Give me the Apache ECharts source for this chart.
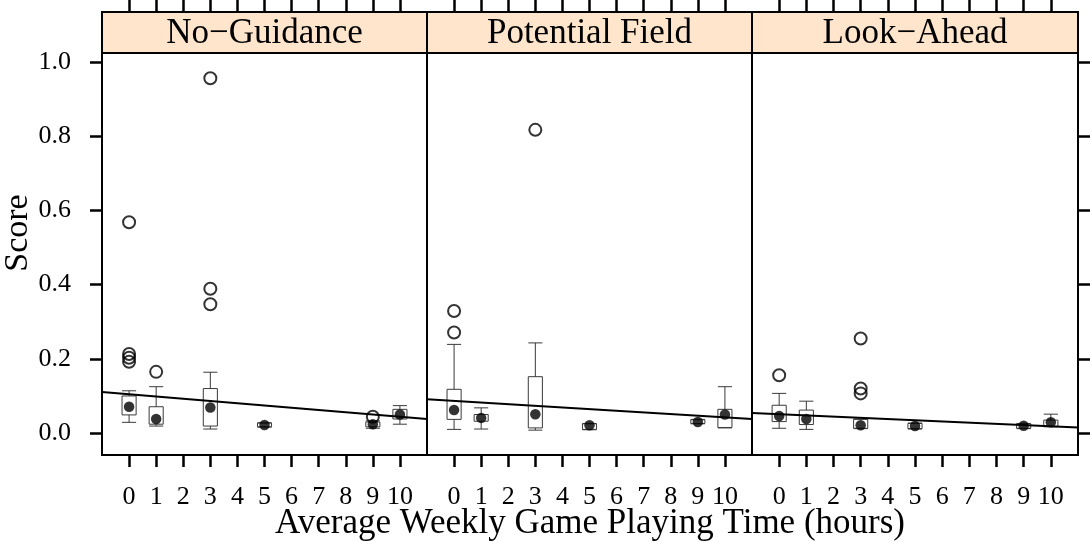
<!DOCTYPE html>
<html>
<head>
<meta charset="utf-8">
<title>Score by Average Weekly Game Playing Time</title>
<script src="https://cdn.jsdelivr.net/npm/echarts@6.0.0/dist/echarts.min.js"></script>
<style>
  html, body { margin: 0; padding: 0; background: #ffffff; }
  #chart { width: 1090px; height: 542px; }
</style>
</head>
<body>
<div id="chart"></div>
<script>
// Panels (one per guidance condition)
const conditions = ['No\u2212Guidance', 'Potential Field', 'Look\u2212Ahead'];

// Groups of average weekly playing time (hours) present in the data
const hours = [0, 1, 3, 5, 9, 10];
const hourTicks = [0, 1, 2, 3, 4, 5, 6, 7, 8, 9, 10];
const scoreTicks = [0, 0.2, 0.4, 0.6, 0.8, 1.0];

// Box statistics per hour group: [lower whisker, Q1, median, Q3, upper whisker]
const noGuidanceBox = [
  [0.029, 0.049, 0.071, 0.100, 0.114],
  [0.019, 0.024, 0.038, 0.071, 0.125],
  [0.011, 0.019, 0.069, 0.120, 0.164],
  [0.016, 0.017, 0.022, 0.027, 0.028],
  [0.013, 0.017, 0.024, 0.030, 0.033],
  [0.024, 0.038, 0.050, 0.064, 0.074]
];
const potentialFieldBox = [
  [0.010, 0.037, 0.062, 0.118, 0.239],
  [0.011, 0.032, 0.041, 0.050, 0.068],
  [0.008, 0.014, 0.051, 0.152, 0.243],
  [0.009, 0.010, 0.021, 0.025, 0.026],
  [0.025, 0.026, 0.030, 0.036, 0.037],
  [0.014, 0.015, 0.050, 0.064, 0.125]
];
const lookAheadBox = [
  [0.013, 0.031, 0.046, 0.075, 0.107],
  [0.010, 0.023, 0.038, 0.062, 0.086],
  [0.012, 0.013, 0.021, 0.037, 0.038],
  [0.011, 0.012, 0.019, 0.026, 0.027],
  [0.012, 0.013, 0.020, 0.025, 0.026],
  [0.017, 0.018, 0.029, 0.035, 0.051]
];

// Outlying observations: [hours, score]
const noGuidanceOut = [[0, 0.568], [0, 0.213], [0, 0.203], [0, 0.192], [1, 0.165],
                       [3, 0.956], [3, 0.389], [3, 0.347], [9, 0.044]];
const potentialFieldOut = [[0, 0.329], [0, 0.271], [3, 0.817]];
const lookAheadOut = [[0, 0.156], [3, 0.255], [3, 0.120], [3, 0.107]];

// Fitted trend: score at the left and right ends of the hours range
const fitAtStart = [0.111, 0.091, 0.054];
const fitAtEnd = [0.038, 0.038, 0.015];

const boxes = [noGuidanceBox, potentialFieldBox, lookAheadBox];
const outliers = [noGuidanceOut, potentialFieldOut, lookAheadOut];

const X_MIN = -1, X_MAX = 11;
const Y_MIN = -0.059, Y_MAX = 1.024;
const FONT = '"Liberation Serif", "DejaVu Serif", serif';

// Layout
const panelTop = 53, panelBottom = 455, stripTop = 12;
const panelLefts = [102, 427, 752];
const panelWidths = [325, 325, 326];

const chart = echarts.init(document.getElementById('chart'), null, { renderer: 'canvas' });

const grids = [], xAxes = [], yAxes = [], series = [], graphics = [];
const tickStyle = { color: '#000', width: 2.5 };

conditions.forEach(function (name, i) {
  grids.push({
    left: panelLefts[i], top: panelTop, width: panelWidths[i], height: panelBottom - panelTop,
    show: true, borderColor: '#000', borderWidth: 2, backgroundColor: '#fff'
  });

  // bottom axis with labels
  xAxes.push({
    type: 'value', gridIndex: i, min: X_MIN, max: X_MAX, position: 'bottom',
    axisLine: { show: false, onZero: false }, splitLine: { show: false },
    axisTick: { show: true, length: 12, lineStyle: tickStyle, customValues: hourTicks },
    axisLabel: {
      show: true, customValues: hourTicks, margin: 29,
      fontFamily: FONT, fontSize: 26, lineHeight: 26, color: '#000'
    }
  });
  // top axis carrying the ticks above the strip
  xAxes.push({
    type: 'value', gridIndex: i, min: X_MIN, max: X_MAX, position: 'top',
    offset: panelTop - stripTop,
    axisLine: { show: false, onZero: false }, splitLine: { show: false },
    axisTick: { show: true, length: 12, lineStyle: tickStyle, customValues: hourTicks },
    axisLabel: { show: false }
  });

  yAxes.push({
    type: 'value', gridIndex: i, min: Y_MIN, max: Y_MAX,
    position: i === 2 ? 'right' : 'left',
    axisLine: { show: false, onZero: false }, splitLine: { show: false },
    axisTick: {
      show: i !== 1, length: 12, lineStyle: tickStyle, customValues: scoreTicks
    },
    axisLabel: {
      show: i === 0, customValues: scoreTicks, margin: 31,
      fontFamily: FONT, fontSize: 26, color: '#000',
      formatter: function (v) { return v.toFixed(1); }
    }
  });

  const boxData = boxes[i].map(function (s, k) { return [hours[k]].concat(s); });

  // fitted trend line
  series.push({
    type: 'line', xAxisIndex: 2 * i, yAxisIndex: i, z: 3,
    data: [[X_MIN, fitAtStart[i]], [X_MAX, fitAtEnd[i]]],
    symbol: 'none', silent: true, animation: false,
    lineStyle: { color: '#000', width: 2 }
  });

  // boxes and whiskers with caps
  series.push({
    type: 'custom', xAxisIndex: 2 * i, yAxisIndex: i, z: 2,
    data: boxData, animation: false, silent: true,
    encode: { x: 0, y: [1, 2, 3, 4, 5] },
    renderItem: function (params, api) {
      const x = api.value(0);
      const lo = api.coord([x, api.value(1)]);
      const q1 = api.coord([x, api.value(2)]);
      const q3 = api.coord([x, api.value(4)]);
      const hi = api.coord([x, api.value(5)]);
      const half = api.size([0.26, 0])[0];
      const cx = lo[0];
      const st = { stroke: '#3a3a3a', lineWidth: 1, fill: null };
      return {
        type: 'group',
        children: [
          { type: 'line', shape: { x1: cx, y1: hi[1], x2: cx, y2: q3[1] }, style: st },
          { type: 'line', shape: { x1: cx, y1: q1[1], x2: cx, y2: lo[1] }, style: st },
          { type: 'line', shape: { x1: cx - half, y1: hi[1], x2: cx + half, y2: hi[1] }, style: st },
          { type: 'line', shape: { x1: cx - half, y1: lo[1], x2: cx + half, y2: lo[1] }, style: st },
          {
            type: 'rect',
            shape: { x: cx - half, y: q3[1], width: 2 * half, height: q1[1] - q3[1] },
            style: { stroke: '#3a3a3a', lineWidth: 1, fill: 'rgba(255,255,255,0)' }
          }
        ]
      };
    }
  });

  // medians
  series.push({
    type: 'scatter', xAxisIndex: 2 * i, yAxisIndex: i, z: 4,
    data: boxData.map(function (d) { return [d[0], d[3]]; }),
    symbol: 'circle', symbolSize: 10.5, animation: false, silent: true,
    itemStyle: { color: '#000' }
  });

  // outliers
  series.push({
    type: 'scatter', xAxisIndex: 2 * i, yAxisIndex: i, z: 4,
    data: outliers[i],
    symbol: 'circle', symbolSize: 12, animation: false, silent: true,
    itemStyle: { color: 'rgba(0,0,0,0)', borderColor: '#000', borderWidth: 2 }
  });

  // strip with the condition name
  graphics.push({
    type: 'rect', z: 10,
    shape: { x: panelLefts[i], y: stripTop, width: panelWidths[i], height: panelTop - stripTop },
    style: { fill: '#ffe5cc', stroke: '#000', lineWidth: 2 }
  });
  graphics.push({
    type: 'text', z: 11,
    x: panelLefts[i] + panelWidths[i] / 2, y: (stripTop + panelTop) / 2 + 1,
    style: {
      text: name, fill: '#000', font: '35px ' + FONT,
      align: 'center', verticalAlign: 'middle'
    }
  });
});

// axis titles
graphics.push({
  type: 'text', z: 11, x: 590, y: 524,
  style: {
    text: 'Average Weekly Game Playing Time (hours)', fill: '#000', font: '35px ' + FONT,
    align: 'center', verticalAlign: 'middle'
  }
});
graphics.push({
  type: 'text', z: 11, x: 18, y: 233, rotation: Math.PI / 2,
  style: {
    text: 'Score', fill: '#000', font: '34px ' + FONT,
    align: 'center', verticalAlign: 'middle'
  }
});

chart.setOption({
  animation: false,
  backgroundColor: '#ffffff',
  grid: grids,
  xAxis: xAxes,
  yAxis: yAxes,
  series: series,
  graphic: graphics
});
</script>
</body>
</html>
